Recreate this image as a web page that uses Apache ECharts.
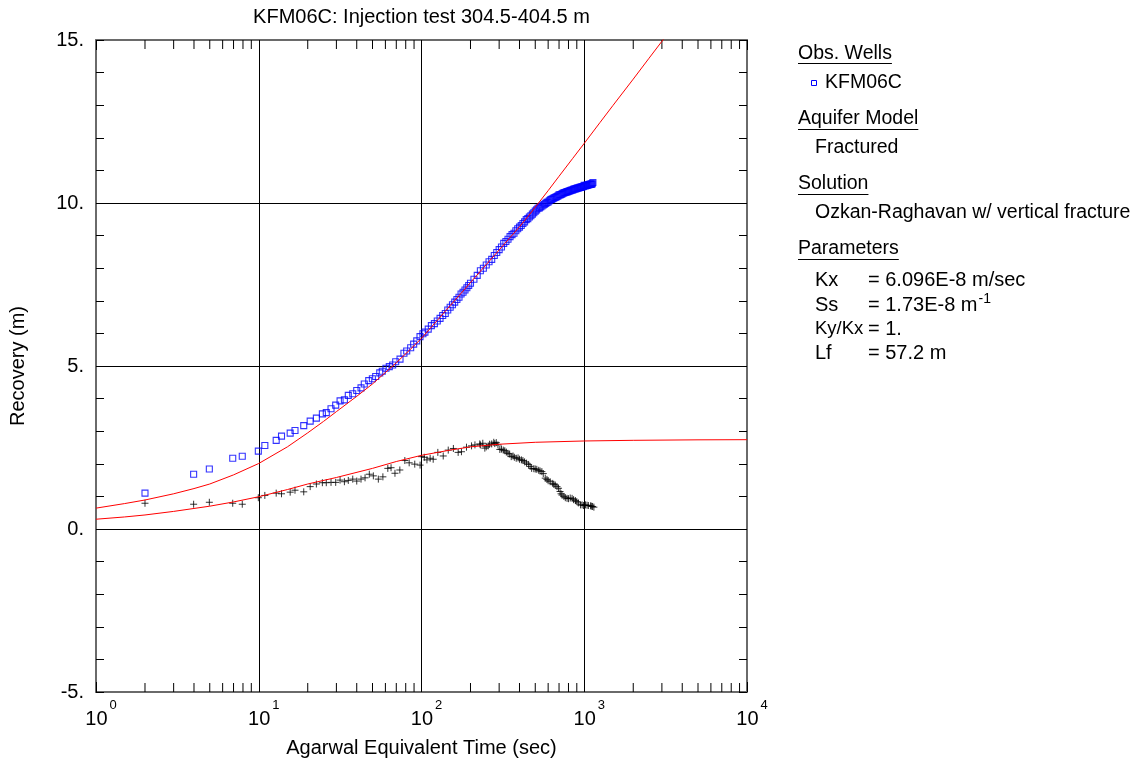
<!DOCTYPE html>
<html><head><meta charset="utf-8">
<script src="https://cdn.jsdelivr.net/npm/echarts@6/dist/echarts.min.js"></script>
<style>html,body{margin:0;padding:0;background:#fff}#c{width:1136px;height:767px}</style>
</head><body><div id="c"></div>
<script>
// ---------- DATA ----------
const obsTime = [2.0,3.98,4.97,6.92,7.92,9.94,10.9,12.8,13.8,15.6,16.7,18.9,20.7,22.6,24.6,26.0,27.8,29.7,31.6,33.6,35.5,37.8,40.0,42.5,44.5,47.4,49.9,52.3,55.4,57.4,60.5,63.4,66.5,69.4,73.8,78.0,81.1,85.8,89.5,93.5,97.9,102,
105,110,115,120,125,130,135,140,145,150,155,160,165,170,175,180,185,190,195,200,
210,220,230,240,250,260,270,280,290,300,310,320,330,340,350,360,370,380,390,400,410,420,430,440,450,460,470,480,490,500,
510,520,530,540,550,560,570,580,590,600,610,620,630,640,650,660,670,680,690,700,710,720,730,740,750,760,770,780,790,800,
810,820,830,840,850,860,870,880,890,900,910,920,930,940,950,960,970,980,990,1000,1010,1020,1030,1040,1050,1060,1070,1080,1090,1100,1110,1120,1130];
const obsRecovery = [1.10,1.68,1.84,2.17,2.23,2.39,2.56,2.72,2.85,2.94,3.02,3.17,3.31,3.40,3.53,3.57,3.69,3.80,3.93,3.96,4.10,4.15,4.25,4.33,4.45,4.55,4.61,4.68,4.79,4.84,4.93,4.98,5.03,5.13,5.21,5.39,5.46,5.56,5.67,5.77,5.90,5.99,
6.04,6.13,6.24,6.30,6.38,6.46,6.55,6.61,6.72,6.80,6.88,6.96,7.04,7.11,7.21,7.26,7.33,7.40,7.47,7.54,
7.66,7.78,7.92,8.00,8.10,8.20,8.27,8.39,8.48,8.57,8.65,8.76,8.82,8.89,8.97,9.03,9.07,9.15,9.21,9.26,9.31,9.37,9.42,9.49,9.52,9.57,9.61,9.66,9.70,9.75,
9.79,9.84,9.85,9.88,9.91,9.94,9.96,9.99,10.02,10.03,10.07,10.10,10.11,10.13,10.15,10.17,10.18,10.20,10.22,10.25,10.25,10.26,10.28,10.30,10.31,10.32,10.33,10.34,10.35,10.36,
10.37,10.38,10.39,10.40,10.40,10.42,10.43,10.43,10.44,10.45,10.46,10.46,10.47,10.48,10.48,10.49,10.50,10.50,10.51,10.54,10.52,10.53,10.54,10.54,10.55,10.56,10.56,10.57,10.57,10.58,10.58,10.59,10.63];

const derivTime = [2.0,3.98,4.97,6.92,7.92,9.94,10.9,12.8,13.8,15.6,16.7,18.9,20.7,22.6,24.6,26.0,27.8,29.7,31.6,33.6,35.5,37.8,40.0,42.5,45.0,47.8,50.6,54.3,57.9,62.1,65.0,68.7,73.6,79.0,84.0,90.9,98.0,
100,104,108,113,118,126,136,146,157,168,176,189,203,213,228,230,238,245,250,257,262,270,278,282,288,295,303,310,318,325,332,340,348,356,365,372,382,392,400,411,420,430,442,455,465,475,490,500,
511,525,535,549,560,576,590,600,617,640,650,663,680,695,710,720,730,750,765,784,800,820,842,860,883,900,920,948,970,990,1018,1040,1060,1093,1110,1125,1146];
const derivValue = [0.79,0.76,0.82,0.79,0.76,0.96,1.03,1.10,1.08,1.13,1.19,1.14,1.30,1.38,1.42,1.42,1.43,1.43,1.50,1.45,1.49,1.53,1.47,1.53,1.57,1.68,1.63,1.53,1.60,1.86,1.88,1.71,1.81,2.10,2.03,1.99,1.96,
2.22,2.20,2.12,2.17,2.14,2.35,2.24,2.42,2.47,2.35,2.37,2.51,2.55,2.58,2.61,2.58,2.63,2.48,2.52,2.55,2.60,2.61,2.66,2.62,2.65,2.58,2.44,2.45,2.42,2.40,2.36,2.32,2.30,2.22,2.24,2.20,2.17,2.18,2.14,2.12,2.10,2.06,2.02,1.98,1.92,1.86,1.85,1.84,
1.83,1.80,1.78,1.76,1.70,1.56,1.52,1.48,1.45,1.40,1.37,1.35,1.30,1.25,1.15,1.08,1.04,1.00,0.96,0.94,0.93,0.95,0.94,0.90,0.87,0.84,0.80,0.74,0.74,0.72,0.74,0.73,0.72,0.71,0.70,0.69,0.67];

const fitTime = [1,1.5,2,3,4,5,7,10,15,20,25,30,40,50,60,70,85,100,125,150,175,200,250,300,350,400,450,500,600,700,850,1000,1250,1500,2000,2500,3000,3300];
const fitRecovery = [0.64,0.78,0.89,1.08,1.24,1.38,1.66,2.01,2.52,2.95,3.30,3.60,4.07,4.45,4.80,5.10,5.50,5.85,6.40,6.85,7.23,7.56,8.11,8.56,8.94,9.27,9.58,9.87,10.38,10.82,11.37,11.83,12.47,12.99,13.80,14.44,14.96,15.24];

const fitDerivTime = [1,1.5,2,3,5,7,10,15,20,30,50,70,100,150,200,300,500,1000,2000,5000,10000];
const fitDeriv = [0.30,0.37,0.43,0.54,0.70,0.83,0.99,1.21,1.38,1.58,1.86,2.07,2.26,2.42,2.52,2.60,2.66,2.70,2.72,2.735,2.74];

const xMajorTicks = [1,10,100,1000,10000];
const xTickExponents = ['0','1','2','3','4'];
const xMinorTicks = [2,3,4,5,6,7,8,9,20,30,40,50,60,70,80,90,200,300,400,500,600,700,800,900,2000,3000,4000,5000,6000,7000,8000,9000];
const yTickValues = [-5,0,5,10,15];
const yTickLabels = ['-5.','0.','5.','10.','15.'];

const titleText = 'KFM06C: Injection test 304.5-404.5 m';
const xTitle = 'Agarwal Equivalent Time (sec)';
const yTitle = 'Recovery (m)';

// ---------- CHART ----------
const FONT = '"Liberation Sans", Arial, sans-serif';
const pair = (a, b) => a.map((v, i) => [v, b[i]]);
const frame = {show:true, onZero:false, lineStyle:{color:'#6a6a6a', width:2}};

const xLabelFmt = v => {
  const i = Math.round(Math.log10(v));
  return '{p|}{b|10}{s|' + xTickExponents[i] + '}';
};

const option = {
  animation:false,
  backgroundColor:'#fff',
  grid:{left:96, right:389, top:40, bottom:75, containLabel:false, outerBoundsMode:'none'},
  xAxis:[{
    type:'log', logBase:10, min:1, max:10000, position:'bottom',
    axisLine:frame,
    axisTick:{show:true, inside:true, length:10, lineStyle:{color:'#000'}},
    splitLine:{show:true, lineStyle:{color:'#000', width:1}},
    axisLabel:{margin:7, formatter:xLabelFmt, color:'#000',
      rich:{
        p:{width:10, fontSize:20, lineHeight:40},
        b:{fontSize:20, fontFamily:FONT, color:'#000', lineHeight:40},
        s:{fontSize:13, fontFamily:FONT, color:'#000', lineHeight:14, verticalAlign:'top', padding:[0,0,0,2]}
      }},
    name:xTitle, nameLocation:'middle', nameGap:46,
    nameTextStyle:{fontSize:20, fontFamily:FONT, color:'#000'}
  },{
    type:'log', logBase:10, min:1, max:10000, position:'top',
    axisLine:frame,
    axisTick:{show:true, inside:true, length:10, lineStyle:{color:'#000'}},
    axisLabel:{show:false}, splitLine:{show:false}
  }],
  yAxis:[{
    type:'value', min:-5, max:15, interval:5, position:'left',
    axisLine:frame,
    axisTick:{show:true, inside:true, length:8, lineStyle:{color:'#000'}},
    minorTick:{show:true, splitNumber:5, length:8, lineStyle:{color:'#000'}},
    splitLine:{show:true, lineStyle:{color:'#000', width:1}},
    axisLabel:{margin:12, fontSize:20, fontFamily:FONT, color:'#000',
      formatter:v => yTickLabels[yTickValues.indexOf(v)]},
    name:yTitle, nameLocation:'middle', nameGap:68, nameRotate:90,
    nameTextStyle:{fontSize:20, fontFamily:FONT, color:'#000'}
  },{
    type:'value', min:-5, max:15, interval:5, position:'right',
    axisLine:frame,
    axisTick:{show:true, inside:true, length:8, lineStyle:{color:'#000'}},
    minorTick:{show:true, splitNumber:5, length:8, lineStyle:{color:'#000'}},
    axisLabel:{show:false}, splitLine:{show:false}
  }],
  series:[
    {type:'custom', xAxisIndex:0, yAxisIndex:0, silent:true, clip:false,
     data:xMinorTicks.map(v => [v, 0]), encode:{x:0, y:1},
     renderItem:(params, api) => {
       const x = api.value(0);
       const b = api.coord([x, -5]);
       const t = api.coord([x, 15]);
       return {type:'group', children:[
         {type:'line', shape:{x1:b[0], y1:b[1], x2:b[0], y2:b[1]-9}, style:{stroke:'#000', lineWidth:1}},
         {type:'line', shape:{x1:t[0], y1:t[1], x2:t[0], y2:t[1]+9}, style:{stroke:'#000', lineWidth:1}}
       ]};
     }},
    {type:'scatter', name:'KFM06C', data:pair(obsTime, obsRecovery), symbol:'rect', symbolSize:6,
     itemStyle:{color:'rgba(0,0,0,0)', borderColor:'#0000ff', borderWidth:1.1}, z:3},
    {type:'scatter', name:'Derivative', data:pair(derivTime, derivValue),
     symbol:'path://M4,0L4,8M0,4L8,4', symbolSize:7,
     itemStyle:{color:'rgba(0,0,0,0)', borderColor:'#000', borderWidth:1}, z:3},
    {type:'line', data:pair(fitTime, fitRecovery), showSymbol:false, smooth:false,
     lineStyle:{color:'#ff0000', width:1}, z:4},
    {type:'line', data:pair(fitDerivTime, fitDeriv), showSymbol:false, smooth:false,
     lineStyle:{color:'#ff0000', width:1}, z:4}
  ],
  graphic:[]
};

// text panel
const FS = 19.5;
const PS = 20;
const G = [];
const txt = (x, y, text, extra) => G.push(Object.assign({type:'text', x:x, y:y, silent:true,
  style:Object.assign({text:text, font:FS + 'px ' + FONT, fill:'#000', align:'left', verticalAlign:'middle',
    textAlign:'left', textVerticalAlign:'middle'}, extra || {})}));
const uline = (x, y, w) => G.push({type:'line', silent:true, shape:{x1:x, y1:y, x2:x+w, y2:y}, style:{stroke:'#000', lineWidth:1}});
const mctx = document.createElement('canvas').getContext('2d');
const measure = (s, f) => { mctx.font = f; return mctx.measureText(s).width; };
const pf = {font:PS + 'px ' + FONT};

txt(421.5, 17, titleText, {align:'center', textAlign:'center', font:'20px ' + FONT});
txt(798, 54, 'Obs. Wells'); uline(798, 63.5, measure('Obs. Wells', FS + 'px ' + FONT));
G.push({type:'rect', silent:true, shape:{x:811.5, y:80.5, width:5, height:5}, style:{fill:'none', stroke:'#0000ff', lineWidth:1}});
txt(825, 83, 'KFM06C');
txt(798, 119, 'Aquifer Model'); uline(798, 129.5, measure('Aquifer Model', FS + 'px ' + FONT));
txt(815, 148, 'Fractured');
txt(798, 184, 'Solution'); uline(798, 194.5, measure('Solution', FS + 'px ' + FONT));
txt(815, 213, 'Ozkan-Raghavan w/ vertical fracture');
txt(798, 249, 'Parameters'); uline(798, 259.5, measure('Parameters', FS + 'px ' + FONT));
txt(815, 280, 'Kx', pf); txt(868, 280, '= 6.096E-8 m/sec', pf);
txt(815, 305, 'Ss', pf);
const ssText = '= 1.73E-8 m';
txt(868, 305, ssText, pf);
txt(868 + measure(ssText, PS + 'px ' + FONT) + 1, 299, '-1', {font:'14px ' + FONT});
txt(815, 329, 'Ky/Kx', {font:'18.5px ' + FONT}); txt(868, 329, '= 1.', pf);
txt(815, 353, 'Lf', pf); txt(868, 353, '= 57.2 m', pf);
option.graphic = G;

const chart = echarts.init(document.getElementById('c'), null, {renderer:'canvas'});
chart.setOption(option);
</script>
</body></html>
